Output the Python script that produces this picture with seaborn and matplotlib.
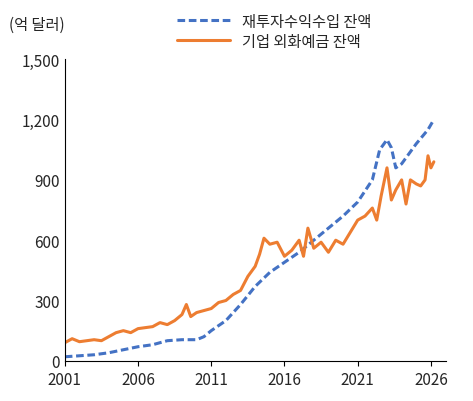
import matplotlib
matplotlib.use("Agg")
import matplotlib.pyplot as plt
import matplotlib.ticker as mticker
import seaborn as sns
import pandas as pd

# 재투자수익수입 잔액 (dashed)
reinv_x = [2001, 2002, 2003, 2004, 2005, 2006, 2007, 2008, 2009, 2010, 2010.5, 2011, 2012, 2013,
           2014, 2015, 2016, 2017, 2018, 2019, 2020, 2021, 2022, 2022.5, 2023, 2023.3, 2023.6,
           2024, 2025, 2025.8, 2026.2]
reinv_y = [20, 25, 30, 40, 55, 70, 80, 100, 105, 105, 120, 150, 200, 280,
           370, 440, 490, 540, 600, 660, 720, 790, 900, 1050, 1100, 1060, 960,
           980, 1080, 1150, 1200]

# 기업 외화예금 잔액 (solid)
dep_x = [2001, 2001.5, 2002, 2002.5, 2003, 2003.5, 2004, 2004.5, 2005, 2005.5, 2006, 2006.5,
         2007, 2007.5, 2008, 2008.5, 2009, 2009.3, 2009.6, 2010, 2010.5, 2011, 2011.5, 2012,
         2012.5, 2013, 2013.5, 2014, 2014.3, 2014.6, 2015, 2015.5, 2016, 2016.5, 2017, 2017.3,
         2017.6, 2018, 2018.5, 2019, 2019.5, 2020, 2020.5, 2021, 2021.5, 2022, 2022.3, 2022.6,
         2023, 2023.3, 2023.6, 2024, 2024.3, 2024.6, 2025, 2025.3, 2025.6, 2025.8, 2026, 2026.2]
dep_y = [90, 110, 95, 100, 105, 100, 120, 140, 150, 140, 160, 165,
         170, 190, 180, 200, 230, 280, 220, 240, 250, 260, 290, 300,
         330, 350, 420, 470, 530, 610, 580, 590, 520, 550, 600, 520,
         660, 560, 590, 540, 600, 580, 640, 700, 720, 760, 700, 820,
         960, 800, 850, 900, 780, 900, 880, 870, 900, 1020, 960, 990]

sns.set_style("ticks")
plt.rcParams['font.family'] = ['Noto Sans CJK KR', 'DejaVu Sans']

fig = plt.figure(figsize=(4.73, 4.02), dpi=100)
ax = fig.add_axes([0.137, 0.10, 0.805, 0.75])

sns.lineplot(data=pd.DataFrame({"x": reinv_x, "y": reinv_y}), x="x", y="y", ax=ax,
             color="#4472C4", linewidth=2.2, linestyle=(0, (2.5, 1.2)), label="재투자수익수입 잔액")
sns.lineplot(data=pd.DataFrame({"x": dep_x, "y": dep_y}), x="x", y="y", ax=ax,
             color="#ED7D31", linewidth=2.2, label="기업 외화예금 잔액")

ax.set_xlim(2001, 2027)
ax.set_ylim(0, 1500)
ax.set_xticks([2001, 2006, 2011, 2016, 2021, 2026])
ax.set_yticks([0, 300, 600, 900, 1200, 1500])
ax.yaxis.set_major_formatter(mticker.FuncFormatter(lambda v, p: f"{int(v):,}"))
ax.set_xlabel("")
ax.set_ylabel("")
ax.tick_params(axis='both', labelsize=11, color='black')
ax.tick_params(axis='y', length=0)
for s in ["top", "right"]:
    ax.spines[s].set_visible(False)
ax.spines["left"].set_color("black")
ax.spines["bottom"].set_color("black")

fig.text(0.02, 0.925, "(억 달러)", fontsize=11)
ax.legend(loc="upper center", bbox_to_anchor=(0.55, 1.2), frameon=False, fontsize=11,
          handlelength=3.5, labelspacing=0.2)

fig.savefig("out.png", dpi=100)
